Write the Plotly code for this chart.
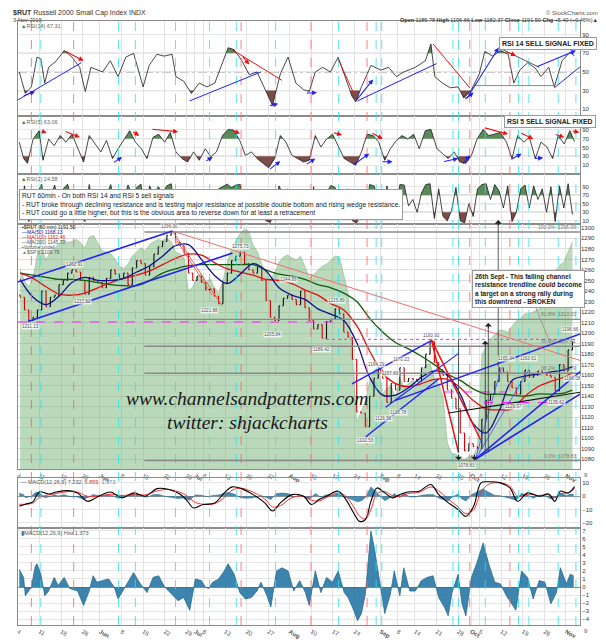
import numpy as np
import plotly.graph_objects as go
from plotly.subplots import make_subplots

# RUT 60 min chart, 4 May - 3 Nov 2015
# x unit = trading day (0 = 4 May), daily closes sit in the middle of the day
close = [
    1234, 1222, 1212, 1215, 1222,
    1240, 1225, 1234, 1236, 1246,
    1250, 1257, 1260, 1258, 1250,
    1237, 1253, 1250, 1248,
    1243, 1252, 1260, 1256, 1252,
    1257, 1246, 1262, 1269, 1266,
    1255, 1263, 1275, 1282, 1287,
    1293, 1296, 1286, 1283, 1276,
    1257, 1250, 1254, 1248,
    1241, 1242, 1235, 1228, 1248,
    1257, 1269, 1273, 1277, 1266,
    1260, 1257, 1263, 1250, 1231,
    1215, 1212, 1226, 1233, 1236,
    1232, 1227, 1240, 1224, 1212,
    1204, 1208, 1195, 1211, 1213,
    1223, 1218, 1201, 1196, 1175,
    1125, 1124, 1111, 1140, 1157,
    1165,
    1157, 1134, 1152, 1146,
    1167, 1154, 1157, 1156,
    1154, 1167, 1180, 1192, 1172,
    1165, 1160, 1146, 1138, 1128,
    1105, 1088, 1095,
    1092, 1090,
    1118, 1136, 1142, 1154, 1167,
    1163, 1154, 1148, 1142, 1154,
    1165, 1158, 1160, 1164, 1162,
    1160, 1158, 1145, 1170, 1164,
    1184, 1191.5,
]
first_open = 1236

spx = [
    2083, 2072, 2066, 2075, 2098,
    2103, 2092, 2100, 2104, 2108,
    2112, 2109, 2110, 2112, 2109,
    2104, 2114, 2116, 2108,
    2101, 2100, 2098, 2093, 2086,
    2084, 2088, 2096, 2100, 2104,
    2101, 2107, 2110, 2112, 2111,
    2113, 2110, 2100, 2098, 2094,
    2062, 2066, 2076, 2079,
    2070, 2074, 2066, 2060, 2072,
    2090, 2103, 2111, 2118, 2122,
    2120, 2106, 2100, 2088, 2080,
    2073, 2080, 2090, 2095, 2097,
    2094, 2092, 2096, 2085, 2075,
    2078, 2082, 2086, 2088, 2092,
    2096, 2095, 2078, 2060, 2000,
    1935, 1945, 1955, 1975, 1985,
    1987,
    1962, 1968, 1970, 1958,
    1978, 1968, 1972, 1976,
    1970, 1985, 1990, 1992, 1978,
    1972, 1960, 1915, 1905, 1904,
    1900, 1899, 1902,
    1903, 1910,
    2000, 2008, 2015, 2020, 2024,
    2024, 2022, 2028, 2033, 2036,
    2040, 2040, 2042, 2044, 2047,
    2052, 2078, 2081, 2087, 2090,
    2100, 2109.79,
]

ma_days = list(range(0, 127, 3)) + [128]
ma50 = [1251, 1234, 1227, 1235, 1248, 1253, 1250, 1250, 1252, 1258, 1264, 1273, 1283, 1284, 1270,
        1255, 1247, 1256, 1266, 1259, 1243, 1236, 1232, 1223, 1218, 1212, 1191, 1158, 1141, 1141,
        1148, 1158, 1164, 1160, 1142, 1114, 1105, 1126, 1155, 1159, 1161, 1163, 1165, 1168.13]
ma100 = [1257, 1252, 1244, 1237, 1236, 1238, 1243, 1248, 1252, 1255, 1259, 1265, 1271, 1275, 1274,
         1267, 1261, 1258, 1255, 1251, 1250, 1247, 1241, 1236, 1228, 1222, 1207, 1183, 1162, 1152,
         1149, 1152, 1156, 1156, 1148, 1136, 1128, 1127, 1128, 1140, 1149, 1154, 1158, 1162.46]
ma200 = [1257, 1255, 1253, 1251, 1251, 1250, 1248, 1246, 1245, 1245, 1250, 1257, 1261, 1264, 1265,
         1265, 1265, 1265, 1265, 1260, 1256, 1254, 1251, 1246, 1243, 1238, 1230, 1214, 1201, 1191,
         1185, 1178, 1170, 1161, 1155, 1147, 1142, 1142, 1141, 1140, 1142, 1142, 1143, 1145.72]

rsi14_x = [0.3, 1.7, 3.1, 4.4, 5.3, 6.2, 7.1, 8.9, 10.7, 12.5, 14.3, 15.6, 16.9, 19.6, 21.4, 23.2,
           25, 26.8, 29, 30.4, 32.2, 33.9, 35.7, 36.6, 38.4, 40.2, 42, 43.8, 45.6, 47.4, 48.7, 50.1,
           51.9, 53.6, 55.4, 57.7, 59, 60.8, 62.6, 64.4, 66.2, 67.5, 68.9, 70.6, 72.4, 74.2, 76,
           77.4, 78.3, 79.6, 81.8, 84.1, 85.9, 87.7, 89.4, 92.1, 94.4, 95.7, 96.6, 98.4, 100.2, 102,
           103.3, 105.1, 106.9, 108.2, 110, 111.8, 113.6, 114.9, 116.3, 118.1, 119.9, 121.2, 123,
           124.3, 126.1, 127.9, 129]
rsi14 = [50, 27, 34, 66, 64, 38, 55, 62, 73, 66, 55, 29, 55, 50, 62, 45,
         66, 70, 34, 57, 69, 67, 69, 45, 40, 27, 38, 34, 38, 59, 76, 74,
         62, 47, 50, 27, 14, 48, 66, 38, 31, 29, 50, 55, 50, 66, 41,
         24, 18, 34, 57, 52, 55, 45, 50, 55, 62, 80, 45, 38, 33, 34,
         22, 31, 48, 72, 67, 73, 69, 38, 52, 60, 54, 45, 55,
         34, 62, 71, 67.31]

rsi5_x = [0.3, 1.3, 2.2, 3.5, 4.9, 5.8, 7.1, 8.4, 9.8, 11.1, 12.5, 13.8, 15.2, 16.5, 17.8, 19.2,
          20.5, 21.9, 23.2, 24.6, 25.9, 27.2, 28.6, 29.9, 31.3, 32.6, 34, 35.3, 36.6, 38, 39.3,
          40.7, 42, 43.4, 44.7, 46, 47.4, 48.7, 50.1, 51.4, 52.7, 54.1, 55.4, 56.8, 58.1, 59.5,
          60.8, 62.1, 63.5, 64.8, 66.2, 67.5, 68.9, 70.2, 71.5, 72.9, 74.2, 75.6, 76.9, 78.3,
          79.6, 80.9, 82.3, 83.6, 85, 86.3, 87.7, 89, 90.3, 91.7, 93, 94.4, 95.7, 97.1, 98.4,
          99.7, 101.1, 102.4, 103.8, 105.1, 106.4, 107.8, 109.1, 110.5, 111.8, 113.2, 114.5,
          115.8, 117.2, 118.5, 119.9, 121.2, 122.6, 123.9, 125.2, 126.6, 127.9, 129]
rsi5 = [62, 25, 14, 69, 88, 21, 69, 54, 77, 62, 80, 51, 17, 77, 58, 40,
        66, 25, 47, 69, 88, 62, 47, 25, 73, 80, 62, 84, 40, 25, 17,
        40, 21, 47, 29, 40, 77, 91, 88, 66, 32, 40, 25, 14, 4, 25,
        77, 62, 32, 25, 17, 21, 77, 51, 69, 80, 54, 25, 17, 10,
        40, 80, 77, 62, 21, 47, 66, 77, 69, 80, 47, 88, 91, 47, 36,
        25, 40, 17, 14, 32, 69, 91, 77, 80, 84, 62, 25,
        77, 62, 73, 25, 62, 51, 25, 77, 58, 88, 63.06]

rsi2 = [25, 92, 8, 40, 75, 96, 12, 60, 94, 40, 85, 96, 55, 35, 20, 8, 95, 45, 30, 20,
        70, 95, 35, 20, 60, 94, 70, 88, 96, 15, 92, 70, 90, 75, 92, 97, 30, 50, 22, 12,
        80, 45, 25, 15, 40, 20, 85, 90, 96, 88, 94, 95, 30, 45, 20, 80, 35, 10, 6, 40,
        92, 70, 85, 40, 30, 80, 25, 12, 90, 30, 20, 75, 93, 88, 50, 15, 85, 10, 5, 30,
        25, 95, 92, 60, 20, 92, 40, 30, 95, 94, 45, 60, 30, 75, 95, 97, 15, 85, 20, 10,
        35, 88, 10, 5, 50, 20, 85, 95, 97, 60, 95, 80, 40, 92, 8, 30, 85, 94, 40, 92,
        60, 85, 30, 90, 8, 92, 40, 97, 24.58]

macd_x = [0.3, 1.7, 3.5, 4.9, 7.1, 8.9, 11.6, 13.8, 16.1, 18.7, 21.4, 24.1, 26.8, 29.5, 32.2,
          34.8, 37.5, 39.3, 40.7, 42.9, 45.6, 47.8, 49.6, 51.8, 54.5, 57.2, 59, 60.8, 63.5, 66.2,
          68, 69.8, 71.5, 74.2, 76, 77.8, 79.2, 80.5, 81.8, 83.2, 85, 86.8, 88.5, 90.3, 93,
          95.7, 97.5, 99.3, 102, 103.8, 105.6, 107.3, 109.1, 111.8, 114, 115.8, 118.1, 120.8,
          123, 124.4, 125.7, 127.5, 129]
macd = [-7.5, -6, -4, 3.2, 1.7, 3.2, 4.2, 2.5, -3.8, 0, 3.2, -1.2, 2.5, 0, 5.7,
        5.2, 1.7, -3.8, -8.8, -6.2, -5, 2.5, 7, 5.7, 1.2, -5, -11, -5, 1.2, 0,
        -6.2, -2.5, 0, 3.8, -2.5, -12.5, -18.8, -17.5, -3.8, 6.2, 2.5, -1.2, 1.2, 3.2, 3.8,
        8.8, 1.2, -3.8, -10, -15, -7.5, 10, 10.8, 10, 6.2, -3.8, 2.5, 0,
        1.7, -3.8, 3.8, 2.5, 7.232]
macd_sig = [-6, -6, -5, -1, 1, 2, 3.5, 3, 0, 0, 1.5, 0.5, 1.5, 1, 4,
            5, 3, 0, -4, -6, -5.5, -1, 4.5, 6, 3, -2, -8, -7, -1, 0,
            -3, -3.5, -1, 2.5, 0, -8, -15, -17, -10, 2, 3.5, 0.5, 0, 2, 3,
            7, 4, -1, -8, -13, -10, 3, 9, 10, 7.5, 0, 1.5, 0.5,
            1, -1, 2, 2.5, 5.859]

hist_x = [0.3, 1.3, 1.7, 3.1, 4, 4.4, 5.3, 6.2, 7.1, 8.4, 9.3, 10.7, 12, 13.8, 15.2, 16.5, 17.4,
          18.3, 19.6, 21, 22.3, 23.2, 24.6, 26.8, 28.1, 29.9, 31.3, 32.6, 34, 35.7, 37.1, 38.4,
          39.8, 41.1, 42.5, 43.4, 44.2, 45.1, 46.5, 47.8, 48.7, 50.1, 51.4, 52.7, 54.1, 55.4,
          56.3, 57.7, 58.6, 59.9, 61.2, 62.6, 63.9, 65.3, 66.6, 67.5, 68.9, 70.2, 71.5, 72.9,
          74.2, 75.6, 76.5, 77.8, 78.7, 79.6, 80.5, 81.8, 82.7, 83.6, 85, 86.3, 87.2, 88.5, 89.4,
          90.8, 92.1, 93.5, 94.8, 96.2, 97.5, 98.8, 99.7, 100.6, 102, 102.9, 103.8, 105.1, 106.4,
          107.8, 109.1, 110.5, 111.8, 113.2, 114.5, 115.4, 116.7, 118.1, 119.4, 120.8, 122.1,
          123.5, 124.8, 125.7, 127.1, 128, 128.8]
hist = [2.2, 1.2, -1.1, 0, 2.6, 2.9, 1.6, -1.1, -0.5, 1.2, 0.2, 1.2, -0.2, -0.5, -2.3, -0.5, 1.4,
        0.6, 0.8, 1, 0, -1.5, -0.2, 1.8, 0.6, -0.7, 1.2, 1.4, 0, -0.9, -1.7, -1.3,
        -2.9, 1, 0.8, 0, -0.2, 0.6, 1, 2, 2.9, 1.6, -0.7, -1.5, -1.3, -0.5,
        0.6, -1.1, -2.5, 2, 2.4, 2, -0.5, 0.8, -0.7, -2.3, 2, -0.7, 1.2, 0.6,
        2, -0.7, -1.3, -2.9, -4.2, -3.3, -0.9, 7, 4.5, 1.4, -3.3, -0.9, 2, -1.1, 2.4,
        -0.5, -0.5, 0.8, 1.2, 1.4, -1.3, -2.5, -3.6, -0.7, 1.6, -2.1, -3.6, 1.2, 3.1,
        5.5, 2.9, 0.6, 0.4, -1.1, -2.1, -2.9, 2, 1.2, -1.5, 0.8, 0.6,
        -2.1, -0.7, 2.4, 0.4, 1.6, 1.373]

tick_days = [0, 5, 10, 15, 19, 24, 29, 34, 39, 41, 43, 48, 53, 58, 63, 68, 73, 78, 84, 88,
             92, 97, 102, 105, 107, 112, 117, 122, 127]
tick_text = ["4", "11", "18", "26", "<b>Jun</b>", "8", "15", "22", "29", "<b>Jul</b>", "6", "13",
             "20", "27", "<b>Aug</b>", "10", "17", "24", "<b>Sep</b>", "8", "14", "21", "28",
             "<b>Oct</b>", "5", "12", "19", "26", "<b>Nov</b>"]

# analyst's cycle lines (trading day)
red_cycles = [3.1, 12.9, 51.7, 67.9, 80.9, 104.7, 114.0]
cyan_cycles = [5.3, 23.3, 27.2, 36.5, 44.4, 50.6, 59.7, 74.3, 83.0, 84.3, 100.8, 102.1, 108.3,
               116.0, 118.4, 125.2, 129.3]

BLUE = "#2020ff"
RED = "#ee1010"
GREEN_FILL = "#5a8a5a"
BROWN_FILL = "#7e4c47"
X_END = 130.25


def px(x):  # pixel -> paper
    return (x - 8) / 564


def py(y):
    return (629 - y) / 616


fig = make_subplots(rows=6, cols=1, shared_xaxes=True, vertical_spacing=0)

days = np.arange(len(close)) + 0.5
opens = [first_open] + close[:-1]
highs = np.maximum(opens, close)
lows = np.minimum(opens, close)


def band(xs, vs, level, above):
    ox, oy = [], []
    for k in range(len(xs)):
        if k > 0:
            a, b = vs[k - 1] - level, vs[k] - level
            if a * b < 0:
                t = a / (a - b)
                ox.append(xs[k - 1] + t * (xs[k] - xs[k - 1]))
                oy.append(level)
        ox.append(xs[k])
        oy.append(max(vs[k], level) if above else min(vs[k], level))
    return ox, oy


def rsi_panel(xs, vs, row):
    for level, above, col in ((70, True, GREEN_FILL), (30, False, BROWN_FILL)):
        bx, by = band(list(xs), list(vs), level, above)
        fig.add_trace(go.Scatter(x=bx, y=[level] * len(bx), mode="lines", line=dict(width=0),
                                 hoverinfo="skip"), row=row, col=1)
        fig.add_trace(go.Scatter(x=bx, y=by, mode="lines", line=dict(width=0), fill="tonexty",
                                 fillcolor=col, hoverinfo="skip"), row=row, col=1)
    fig.add_trace(go.Scatter(x=xs, y=vs, mode="lines", line=dict(color="#1a1a1a", width=0.8)),
                  row=row, col=1)


rsi_panel(rsi14_x, rsi14, 1)
rsi_panel(rsi5_x, rsi5, 2)
rsi_panel(days, rsi2, 3)

# $SPX overlay as green area on the base axis of the price panel
fig.add_trace(go.Scatter(x=days, y=spx, mode="lines", fill="tozeroy",
                         line=dict(color="rgba(90,160,90,0.6)", width=0.6),
                         fillcolor="rgba(105,170,105,0.45)"), row=4, col=1)

ma_x = [d + 0.5 for d in ma_days]
for vals, col in ((ma200, "#0e5e0e"), (ma100, "#e01010"), (ma50, "#10108a")):
    fig.add_trace(go.Scatter(x=ma_x, y=vals, mode="lines", line=dict(color=col, width=1.3, shape="spline"),
                             xaxis="x4", yaxis="y7"))

fig.add_trace(go.Ohlc(x=days, open=opens, high=highs, low=lows, close=close, xaxis="x4", yaxis="y7",
                      increasing_line_color="#111111", decreasing_line_color="#d00000",
                      line_width=1.1, tickwidth=0.25))

# MACD
fig.add_trace(go.Scatter(x=hist_x, y=hist, mode="lines", fill="tozeroy", line=dict(color="#1d6286", width=0.5),
                         fillcolor="rgba(40,120,165,0.85)"), row=5, col=1)
fig.add_trace(go.Scatter(x=macd_x, y=macd_sig, mode="lines", line=dict(color="#ff3030", width=1, shape="spline")),
              row=5, col=1)
fig.add_trace(go.Scatter(x=macd_x, y=macd, mode="lines", line=dict(color="#000000", width=1.1, shape="spline")),
              row=5, col=1)
fig.add_trace(go.Scatter(x=hist_x, y=hist, mode="lines", fill="tozeroy", line=dict(color="#1d6286", width=0.7),
                         fillcolor="rgba(40,120,165,0.9)"), row=6, col=1)

# ---------- axes ----------
axis_font = dict(size=6, color="#333333")
for k in range(1, 7):
    name = "xaxis" if k == 1 else "xaxis%d" % k
    fig.layout[name].update(range=[0, X_END], tickvals=tick_days, ticktext=tick_text, showgrid=True,
                            gridcolor="#e2e2e2", gridwidth=1, showline=True, mirror=True,
                            linecolor="#8c8c8c", linewidth=1, ticks="", zeroline=False,
                            showticklabels=k in (4, 6), tickfont=dict(size=6, color="#555"),
                            rangeslider=dict(visible=False))

domains = [[0.8425, 1.0], [0.7468, 0.8425], [0.6640, 0.7468], [0.2581, 0.6640],
           [0.1607, 0.2435], [0.0, 0.1607]]
rsi_ticks = [10, 30, 50, 70, 90]
ycfg = [
    dict(range=[2.6, 104.7], tickvals=rsi_ticks),
    dict(range=[-10, 121], tickvals=rsi_ticks),
    dict(range=[2.5, 120], tickvals=rsi_ticks),
    dict(range=[1889.5, 2127], showticklabels=False, showgrid=False),
    dict(range=[-23.7, 13.7], tickvals=[-20, -10, 0, 10]),
    dict(range=[-4.74, 7.37], tickvals=list(range(-4, 8))),
]
for k in range(1, 7):
    name = "yaxis" if k == 1 else "yaxis%d" % k
    cfg = dict(domain=domains[k - 1], side="right", showline=True, mirror=True, linecolor="#8c8c8c",
               linewidth=1, gridcolor="#e6e6e6", showgrid=True, zeroline=False, ticks="",
               tickfont=axis_font)
    cfg.update(ycfg[k - 1])
    fig.layout[name].update(**cfg)
fig.layout.yaxis5.update(zeroline=True, zerolinecolor="#999", zerolinewidth=1)
fig.layout.yaxis6.update(zeroline=True, zerolinecolor="#888", zerolinewidth=1)
fig.update_layout(yaxis7=dict(overlaying="y4", anchor="x4", side="right", range=[1070.7, 1303.7],
                              tickvals=list(range(1080, 1301, 10)), showgrid=True, gridcolor="#dedede",
                              zeroline=False, ticks="", tickfont=axis_font, showline=False))

shapes = []
# RSI reference levels
for yr in ("y", "y2", "y3"):
    for lev, dash in ((70, "solid"), (30, "solid"), (50, "dashdot")):
        shapes.append(dict(type="line", xref="paper", yref=yr, x0=0, x1=1, y0=lev, y1=lev,
                           line=dict(color="#8f8f8f", width=1, dash=dash), layer="below"))
# cycle lines across all panels
for d in red_cycles:
    shapes.append(dict(type="line", xref="x", yref="paper", x0=d, x1=d, y0=0, y1=1,
                       line=dict(color="#ff6060", width=0.8, dash="dash")))
for d in cyan_cycles:
    shapes.append(dict(type="line", xref="x", yref="paper", x0=d, x1=d, y0=0, y1=1,
                       line=dict(color="#30e0e8", width=0.8, dash="dash")))

# RSI 14 trendlines
for x0, y0, x1, y1, c in [(-1.85, 15, 14.7, 60, BLUE), (39.8, 19, 56.3, 50, BLUE), (49.6, 74, 61.2, 41, RED),
                          (74.2, 64, 77.8, 27, RED), (78.7, 19, 97, 59, BLUE), (96.2, 80, 104.7, 33, RED),
                          (111.4, 76, 120.8, 55, "#555555"), (105.6, 35.4, 124.3, 35.4, "#888888"),
                          (124.3, 33, 133.3, 67, BLUE)]:
    shapes.append(dict(type="line", xref="x", yref="y", x0=x0, y0=y0, x1=x1, y1=y1,
                       line=dict(color=c, width=1)))

# price panel: fibonacci levels
fib = [(1296.00, "100.0%: 1296.00"), (1213.03, "61.8%: 1213.03"), (1187.41, "50.0%: 1187.41"),
       (1161.79, "38.2%: 1161.79"), (1078.83, "0.0%: 1078.83")]
for lev, _ in fib:
    shapes.append(dict(type="line", xref="x4", yref="y7", x0=29.3, x1=X_END, y0=lev, y1=lev,
                       line=dict(color="#8a8a8a", width=1.4)))
# magenta support / resistance levels
for x0, x1, lev, dash in [(0, 73.7, 1210.5, "dash"), (71.4, 129.5, 1194, "dot"),
                          (99, 113, 1144, "dash"), (108, 126, 1134, "dash")]:
    shapes.append(dict(type="line", xref="x4", yref="y7", x0=x0, x1=x1, y0=lev, y1=lev,
                       line=dict(color="#ff20ff", width=1, dash=dash)))
# price trendlines
price_lines = [
    (-1.85, 1246, 35.8, 1297, BLUE, 1.6), (2.3, 1211, 49.7, 1276, BLUE, 1.6),
    (77.4, 1151.8, 95.8, 1192.8, BLUE, 1.4), (80.6, 1101.4, 97.5, 1156.4, BLUE, 1.4),
    (85.2, 1129.4, 102.1, 1180.7, BLUE, 1.2), (87.5, 1136, 136.7, 1208.6, BLUE, 1.5),
    (106, 1080, 138.1, 1190.2, BLUE, 1.5), (106, 1080, 138.1, 1162, BLUE, 1.5),
    (106, 1080, 112, 1166.7, "#4a4aff", 0.8), (106, 1080, 118.2, 1164, "#4a4aff", 0.8),
    (35.8, 1297, X_END, 1174, "#f07070", 1), (35.8, 1297, 47.3, 1226, "#f05050", 0.9),
    (36.5, 1290, 45, 1236, "#f05050", 0.9),
    (95.8, 1193.7, 102.1, 1086.5, RED, 1.5), (95.8, 1193.7, 107.2, 1098.6, RED, 1.5),
    (99.8, 1124, 131.4, 1144.5, "#111111", 1.2),
]
for x0, y0, x1, y1, c, w in price_lines:
    shapes.append(dict(type="line", xref="x4", yref="y7", x0=x0, y0=y0, x1=x1, y1=y1,
                       line=dict(color=c, width=w)))
# vertical marker lines in Sep/Oct
for d, ytop, ybot in [(111.3, py(217), py(366)), (109, py(322), py(453)), (108.3, py(340), py(453)),
                      (102.1, py(338), py(453))]:
    shapes.append(dict(type="line", xref="x4", yref="paper", x0=d, x1=d, y0=ybot, y1=ytop,
                       line=dict(color="#333333", width=0.8)))
fig.update_layout(shapes=shapes)

ann = []


def arrow(x0, y0, x1, y1, c, xr, yr):
    ann.append(dict(x=x1, y=y1, ax=x0, ay=y0, xref=xr, yref=yr, axref=xr, ayref=yr, text="",
                    showarrow=True, arrowhead=2, arrowsize=0.9, arrowwidth=1.1, arrowcolor=c))


for a in [(1.0, 24, 3.97, 29, BLUE), (10.7, 73, 15.2, 62, RED), (51.8, 68, 53.6, 58, RED),
          (58.1, 13.5, 60.3, 16, BLUE), (66.6, 27, 69.3, 28, BLUE), (78.3, 19, 82.3, 42, BLUE),
          (103.3, 20, 105.6, 28, BLUE), (103.8, 20, 111.4, 76, BLUE), (112.7, 72.6, 115.4, 67.4, RED),
          (119.9, 55, 129.3, 73, BLUE)]:
    arrow(*a, "x", "y")
for a in [(5.3, 87.8, 6.65, 82.6, RED), (10.7, 87.8, 14.3, 73, RED), (26.3, 87.8, 28.1, 76.7, RED),
          (30.8, 91.5, 37.1, 85.6, RED), (49.2, 93, 51.4, 80.4, RED), (72.9, 84, 75.1, 78.2, RED),
          (81.8, 84, 84.5, 69.3, RED), (107.8, 95.2, 113.6, 80.4, RED), (116.3, 84, 119.4, 69.3, RED),
          (124.3, 80.4, 126.6, 73, RED), (128.2, 88, 130.1, 84, RED),
          (21.9, 13.8, 24.1, 28.6, BLUE), (43.3, 17.5, 45.1, 28.6, BLUE), (58.1, -1, 60.8, 19, BLUE),
          (66.6, 10, 68.9, 24.9, BLUE), (77.4, 8.6, 81.4, 36, BLUE), (84.1, 17.5, 86.8, 17.5, BLUE),
          (98.4, 17.5, 102, 24.9, BLUE), (102.9, 10, 104.7, 32.3, BLUE), (114, 21.2, 116.7, 36, BLUE),
          (119.4, 24.9, 121.7, 26.4, BLUE)]:
    arrow(*a, "x2", "y2")

# up / down arrow markers
for d, ytip in [(111.3, 216), (109, 321), (108.3, 339)]:
    ann.append(dict(x=d, y=py(ytip), xref="x4", yref="paper", text="", showarrow=True, ax=0, ay=7,
                    arrowhead=1, arrowsize=1.2, arrowwidth=1, arrowcolor="#222"))
for d in (102.1, 105.8):
    ann.append(dict(x=d, y=py(461), xref="x4", yref="paper", text="", showarrow=True, ax=0, ay=-7,
                    arrowhead=1, arrowsize=1.2, arrowwidth=1, arrowcolor="#222"))


def label(x, y, text, size=6, color="#222", xanchor="left", **kw):
    ann.append(dict(x=px(x), y=py(y), xref="paper", yref="paper", text=text, showarrow=False,
                    xanchor=xanchor, yanchor="middle", font=dict(size=size, color=color), **kw))


# header
label(1, 5, "<b>$RUT</b> Russell 2000 Small Cap Index INDX", size=7, color="#333")
label(1, 12, "3-Nov-2015", size=5.5, color="#444")
label(592, 5, "© StockCharts.com", size=6, color="#555", xanchor="right")
label(592, 12, "<b>Open</b> 1185.78 <b>High</b> 1196.66 <b>Low</b> 1182.37 <b>Close</b> 1191.50 "
      "<b>Chg</b> +5.40 (+0.46%)▲", size=5.5, color="#333", xanchor="right")
label(9, 18, "<span style='color:#3d7a3d'>▲</span>RSI(14) 67.31", size=5.5, color="#666")
label(9, 116, "<span style='color:#3d7a3d'>▲</span>RSI(5) 63.06", size=5.5, color="#666")
label(9, 174, "<span style='color:#3d7a3d'>▲</span>RSI(2) 24.58", size=5.5, color="#666")
label(9, 483, "— MACD(12,26,9) 7.232, <span style='color:#e03030'>5.859,</span> "
      "<span style='color:#4a90b0'>1.373</span>", size=5.5, color="#555")
label(9, 535, "<span style='color:#2a7ca5'>▮</span>MACD(12,26,9) Hist 1.373", size=5.5, color="#555")

# boxes
box = dict(bgcolor="white", bordercolor="#9a9a9a", borderwidth=1, borderpad=2)
label(540, 35.5, "<b>RSI 14 SELL SIGNAL FIXED</b>", size=7, color="#222", xanchor="center", **box)
label(542, 116, "<b>RSI 5 SELL SIGNAL FIXED</b>", size=6.8, color="#222", xanchor="center", **box)
label(9, 200.5, "RUT 60min - On both RSI 14 and RSI 5 sell signals<br>"
      "- RUT broke through declining resistance and is testing major resistance at possible double "
      "bottom and rising wedge resistance.<br>"
      "- RUT could go a little higher, but this is the obvious area to reverse down for at least a "
      "retracement", size=6.7, color="#222", align="left", bgcolor="white", bordercolor="#9a9a9a",
      borderwidth=1, borderpad=2)
ann.append(dict(x=px(543), y=py(344), xref="paper", yref="paper", ax=-23, ay=-57,
                showarrow=True, arrowhead=0, arrowwidth=1, standoff=0,
                arrowcolor="#9a9a9a", align="left", font=dict(size=6.5, color="#222"),
                text="<b>26th Sept - This falling channel<br>resistance trendline could become<br>"
                     "a target on a strong rally during<br>this downtrend - BROKEN</b>",
                bgcolor="white", bordercolor="#9a9a9a", borderwidth=1, borderpad=2))

# price panel legend
legend_rows = [("▪$RUT (60 min) 1191.50", "#222"), ("<span style='color:#10108a'>—</span>MA(50) 1168.13", "#10108a"),
               ("<span style='color:#e01010'>—</span>MA(100) 1162.46", "#e01010"),
               ("<span style='color:#0e5e0e'>—</span>MA(200) 1145.72", "#555"),
               ("▪Volume undef", "#555"), ("<span style='color:#5aa05a'>▲</span>$SPX 2109.79", "#555")]
for k, (t, c) in enumerate(legend_rows):
    label(10, 223 + 5.2 * k, t, size=5, color=c)

# watermark
for y, t in ((398, "www.channelsandpatterns.com"), (422, "twitter: shjackcharts")):
    ann.append(dict(x=px(238), y=py(y), xref="paper", yref="paper", text=t, showarrow=False,
                    font=dict(family="Liberation Serif", size=19.5, color="#1a1a1a", style="italic")))

# fib labels
for lev, t in fib:
    ann.append(dict(x=129.8, y=lev, xref="x4", yref="y7", text=t, showarrow=False, xanchor="right",
                    yanchor="bottom", font=dict(size=5, color="#777")))

# swing labels in the price panel
swings = [(2.8, 1206, "1211.13"), (13.2, 1265.5, "1262.91"), (15, 1230, "1237.52"), (35.1, 1301, "1296.00"),
          (44.3, 1221, "1221.88"), (51.5, 1282, "1275.73"), (58.9, 1199, "1205.84"), (62.8, 1250.6, "1244.89"),
          (70.4, 1184.4, "1189.42"), (73.7, 1231, "1225.89"), (80.6, 1097.7, "1102.53"),
          (83.1, 1170.4, "1164.29"), (86.4, 1162, "1157.83"), (88.9, 1175, "1170.23"),
          (84.8, 1119, "1126.56"), (88.2, 1124.7, "1136.78"), (95.8, 1197.5, "1193.93"),
          (103.9, 1073.8, "1078.83"), (113.2, 1176, "1165.94"), (118.2, 1176, "1163.61"),
          (114.8, 1130.3, "1129.37"), (124.7, 1134, "1135.62"), (128, 1203, "1196.66"),
          (128.4, 1156.5, "1166.08")]
for d, p, t in swings:
    ann.append(dict(x=d, y=p, xref="x4", yref="y7", text=t, showarrow=False, font=dict(size=4.6, color="#555"),
                    bgcolor="rgba(255,255,255,0.75)", borderpad=0))

# the "9" tick sits just right of the last visible day
label(578, 476, "9", size=6, color="#555", xanchor="center")
label(578, 635, "9", size=6, color="#555", xanchor="center")

fig.update_layout(annotations=ann, width=606, height=640, showlegend=False,
                  margin=dict(l=8, r=34, t=13, b=11), paper_bgcolor="white", plot_bgcolor="white",
                  font=dict(family="Liberation Sans", size=6, color="#333"), hovermode=False)

fig.write_html("out.html")
